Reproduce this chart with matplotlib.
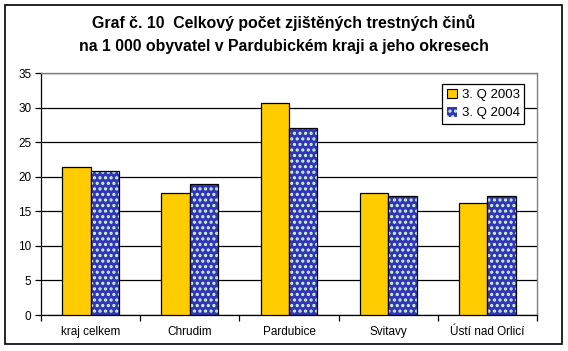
import matplotlib
matplotlib.use("Agg")
import matplotlib.pyplot as plt
import numpy as np
from matplotlib.patches import Rectangle, Patch

plt.rcParams['font.family'] = ['Liberation Sans', 'DejaVu Sans']
plt.rcParams['hatch.linewidth'] = 1.5

categories = ["kraj celkem", "Chrudim", "Pardubice", "Svitavy", "Ústí nad Orlicí"]
q2003 = [21.4, 17.7, 30.6, 17.6, 16.2]
q2004 = [20.8, 19.0, 27.1, 17.2, 17.2]
series_labels = ["3. Q 2003", "3. Q 2004"]
yticks = [0, 5, 10, 15, 20, 25, 30, 35]

yellow = "#ffcc00"
navy = "#3333bb"
light = "#ccffcc"

fig = plt.figure(figsize=(5.68, 3.51), dpi=100)
fig.patch.set_facecolor("white")
fig.patches.append(Rectangle((5 / 568, 1 - 344 / 351), 557 / 568, 339 / 351,
                             transform=fig.transFigure, fill=False,
                             edgecolor="black", linewidth=1.2))

ax = fig.add_axes([41 / 568, 1 - 315 / 351, 496 / 568, 242 / 351])
x = np.arange(len(categories))
w = 0.287

ax.bar(x - w / 2, q2003, w, color=yellow, edgecolor="black", linewidth=0.9, zorder=3)
# hatched series: pattern pass, then outline pass
ax.bar(x + w / 2, q2004, w, color=navy, edgecolor=light, hatch="...", linewidth=0, zorder=3)
ax.bar(x + w / 2, q2004, w, color="none", edgecolor="black", linewidth=0.9, zorder=4)

ax.set_xlim(-0.5, len(categories) - 0.5)
ax.set_ylim(0, 35)
ax.set_yticks(yticks)
ax.set_yticklabels([str(t) for t in yticks], fontsize=8.5)
ax.yaxis.grid(True, color="black", linewidth=0.9)
ax.set_axisbelow(True)

ax.set_xticks(x)
ax.set_xticklabels(categories, fontsize=8.5)
ax.tick_params(axis="x", length=0, pad=8)
ax.set_xticks(np.arange(len(categories) + 1) - 0.5, minor=True)
ax.tick_params(axis="x", which="minor", length=4, width=0.9, direction="out")
ax.tick_params(axis="y", length=4, width=0.9, direction="out", pad=3)

for s in ["left", "bottom"]:
    ax.spines[s].set_color("black")
    ax.spines[s].set_linewidth(0.9)
for s in ["top", "right"]:
    ax.spines[s].set_color("#808080")
    ax.spines[s].set_linewidth(1.0)

fig.text(0.5, 1 - 23 / 351, "Graf č. 10  Celkový počet zjištěných trestných činů",
         ha="center", va="center", fontsize=11.4, fontweight="bold")
fig.text(0.5, 1 - 47 / 351, "na 1 000 obyvatel v Pardubickém kraji a jeho okresech",
         ha="center", va="center", fontsize=11.4, fontweight="bold")

handles = [Patch(facecolor=yellow, edgecolor="black", linewidth=0.8),
           Patch(facecolor=navy, edgecolor=light, hatch="...", linewidth=0)]
leg = ax.legend(handles, series_labels, loc="upper left",
                bbox_to_anchor=(442 / 568, 1 - 84 / 351), bbox_transform=fig.transFigure,
                fontsize=9.5, frameon=True, fancybox=False, framealpha=1,
                edgecolor="black", handlelength=0.75, handleheight=0.75,
                handletextpad=0.4, borderpad=0.35, labelspacing=0.45, borderaxespad=0)
leg.get_frame().set_linewidth(0.9)
leg.set_zorder(10)

fig.savefig("out.png", dpi=100, facecolor="white")
